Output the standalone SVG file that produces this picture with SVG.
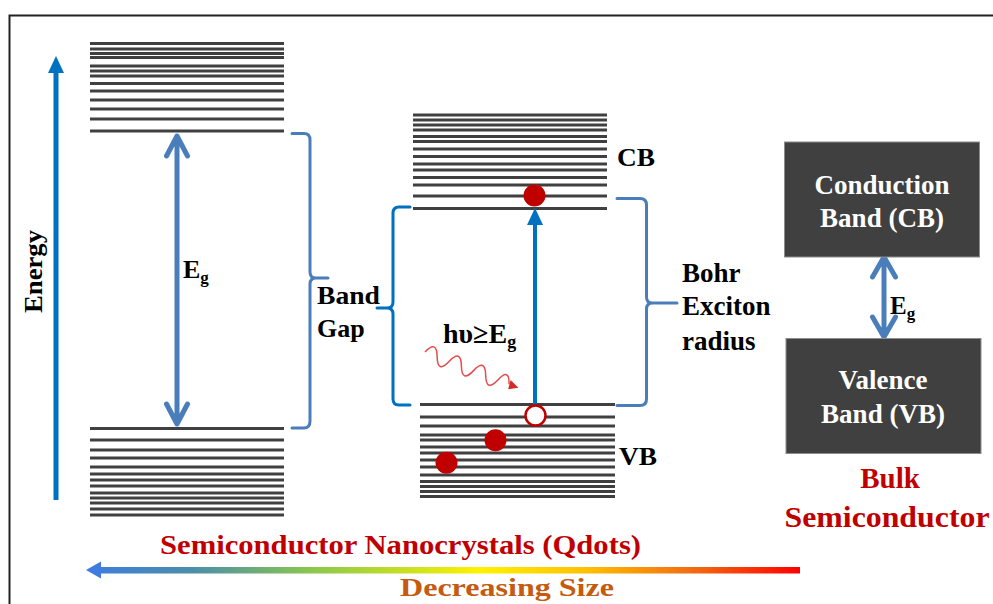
<svg xmlns="http://www.w3.org/2000/svg" width="993" height="604" viewBox="0 0 993 604">
<defs>
<style>
.lv{stroke:#404040;stroke-width:3;fill:none}
.t{font-family:"Liberation Serif","Times New Roman",serif;font-weight:bold;fill:#000}
.w{fill:#ffffff}
.r{fill:#C00000}
.o{fill:#C55A11}
.br1{stroke:#4A7EBB;stroke-width:3;fill:none;stroke-linecap:round;stroke-linejoin:round}
.br2{stroke:#0070C0;stroke-width:3;fill:none;stroke-linecap:round;stroke-linejoin:round}
.eg{stroke:#4A7EBB;stroke-width:5;fill:none;stroke-linecap:round;stroke-linejoin:round}
.box{fill:#404040;stroke:#8c8c8c;stroke-width:1}
</style>
<linearGradient id="rain" gradientUnits="userSpaceOnUse" x1="86" y1="0" x2="800" y2="0">
<stop offset="0" stop-color="#3F7BE0"/>
<stop offset="0.15" stop-color="#4B8FA8"/>
<stop offset="0.32" stop-color="#8CC84B"/>
<stop offset="0.45" stop-color="#C8E020"/>
<stop offset="0.55" stop-color="#FFF200"/>
<stop offset="0.7" stop-color="#FFC000"/>
<stop offset="0.85" stop-color="#F26B10"/>
<stop offset="1" stop-color="#FF0000"/>
</linearGradient>
</defs>
<rect width="993" height="604" fill="#ffffff"/>
<path d="M9.5,604 V15.5 H993" stroke="#222" stroke-width="2" fill="none"/>

<g id="qdot-large-cb">
<path class="lv" d="M90,43.5H284M90,49H284M90,53.5H284M90,57.5H284M90,66H284M90,71H284M90,76H284M90,83.5H284M90,91H284M90,100H284M90,109H284M90,119H284M90,131H284"/>
</g>
<g id="qdot-large-vb">
<path class="lv" d="M90,428.5H284M90,440H284M90,450H284M90,458H284M90,467H284M90,474H284M90,480H284M90,486H284M90,493H284M90,498H284M90,503H284M90,509H284M90,515H284"/>
</g>
<g id="qdot-small-cb">
<path class="lv" d="M413,115H607M413,120H607M413,125H607M413,130H607M413,136.5H607M413,141.5H607M413,149H607M413,156.5H607M413,164H607M413,170H607M413,177.5H607M413,185H607M413,196H607M413,208.5H607"/>
<text class="t" x="617" y="166" font-size="26" textLength="38" lengthAdjust="spacingAndGlyphs">CB</text>
</g>
<g id="qdot-small-vb">
<path class="lv" d="M420,404.5H615M420,417H615M420,426H615M420,435H615M420,440H615M420,447H615M420,453H615M420,460H615M420,467H615M420,475H615M420,481.5H615M420,486.5H615M420,491.5H615M420,496.5H615"/>
<text class="t" x="619" y="465" font-size="26" textLength="38" lengthAdjust="spacingAndGlyphs">VB</text>
</g>

<g id="energy-axis">
<line x1="56" y1="500" x2="56" y2="70" stroke="#0070C0" stroke-width="5"/>
<polygon points="56,56 64,73 48,73" fill="#0070C0"/>
<text class="t" transform="translate(42,313) rotate(-90)" font-size="25" textLength="83" lengthAdjust="spacingAndGlyphs">Energy</text>
</g>

<g id="connectors">
<g id="eg-left-arrow">
<path class="eg" d="M177,137 V422 M166.5,156 L177,136 L187.5,156 M166.5,404 L177,424 L187.5,404"/>
</g>
<g id="band-gap-brace">
<path class="br1" d="M292,133.5 H304 Q310,133.5 310,140 V272 Q310,278 316,278 H328 M316,278 Q310,278 310,284 V421 Q310,428 304,428 H292"/>
</g>
<g id="mid-brace">
<path class="br2" d="M410,207 H399 Q393,207 393,213 V302 Q393,308 387,308 H377 M387,308 Q393,308 393,314 V399 Q393,405 399,405 H410"/>
</g>
<g id="bohr-brace">
<path class="br1" d="M617,198.5 H640 Q646.5,198.5 646.5,205 V297 Q646.5,303 652.5,303 H677 M652.5,303 Q646.5,303 646.5,309 V399 Q646.5,405.5 640,405.5 H617"/>
</g>
<g id="excitation-arrow">
<line x1="535" y1="404" x2="535" y2="224" stroke="#0070C0" stroke-width="4"/>
<polygon points="535,208 543,225 527,225" fill="#0070C0"/>
</g>
<g id="photon">
<g transform="translate(425,352) rotate(21)">
<path d="M0,0 q6.5,-16 13,0 t13,0 t13,0 t13,0 t13,0 t13,0 t12,0" stroke="#E54B4B" stroke-width="1.5" fill="none"/>
<polygon points="100,0 90,-4.5 91,5" fill="#D42A2A"/>
</g>
</g>
<g id="eg-right-arrow">
<path class="eg" d="M884,259 V335 M872.5,277 L884,257 L895.5,277 M872.5,317 L884,337 L895.5,317"/>
</g>
<g id="size-arrow">
<rect x="99" y="567" width="701" height="6.5" fill="url(#rain)"/>
<polygon points="86,570 101,561.5 101,578.5" fill="#3F7BE0"/>
</g>
</g>

<g id="carriers">
<circle cx="534.5" cy="195.5" r="11" fill="#C00000"/>
<circle cx="535.5" cy="415.5" r="10" fill="#ffffff" stroke="#C00000" stroke-width="2.5"/>
<circle cx="495.5" cy="440.3" r="11" fill="#C00000"/>
<circle cx="446.5" cy="462.7" r="11" fill="#C00000"/>
</g>

<g id="labels">
<text class="t" x="183" y="278" font-size="26">E<tspan font-size="17" dy="5">g</tspan></text>
<text class="t" x="317" y="304" font-size="26" textLength="63" lengthAdjust="spacingAndGlyphs">Band</text>
<text class="t" x="317" y="337" font-size="26">Gap</text>
<text class="t" x="443" y="343" font-size="28">hυ≥E<tspan font-size="18" dy="5">g</tspan></text>
<text class="t" x="682" y="282" font-size="27">Bohr</text>
<text class="t" x="682" y="315" font-size="27">Exciton</text>
<text class="t" x="682" y="350" font-size="27">radius</text>
<text class="t" x="890" y="314" font-size="25">E<tspan font-size="17" dy="5">g</tspan></text>
</g>

<g id="bulk-cb">
<rect class="box" x="784.5" y="142" width="195" height="115"/>
<text class="t w" x="882" y="194" font-size="27" text-anchor="middle">Conduction</text>
<text class="t w" x="882" y="227" font-size="27" text-anchor="middle">Band (CB)</text>
</g>
<g id="bulk-vb">
<rect class="box" x="786" y="338.5" width="195" height="115"/>
<text class="t w" x="883" y="389" font-size="27" text-anchor="middle">Valence</text>
<text class="t w" x="883" y="423" font-size="27" text-anchor="middle">Band (VB)</text>
</g>
<g id="bulk-label">
<text class="t r" x="890" y="488" font-size="29" text-anchor="middle">Bulk</text>
<text class="t r" x="887" y="527" font-size="29" text-anchor="middle" textLength="205" lengthAdjust="spacingAndGlyphs">Semiconductor</text>
</g>
<g id="bottom-labels">
<text class="t r" x="160" y="554" font-size="27" textLength="481" lengthAdjust="spacingAndGlyphs">Semiconductor Nanocrystals (Qdots)</text>
<text class="t o" x="400" y="596" font-size="26" textLength="214" lengthAdjust="spacingAndGlyphs">Decreasing Size</text>
</g>
</svg>
